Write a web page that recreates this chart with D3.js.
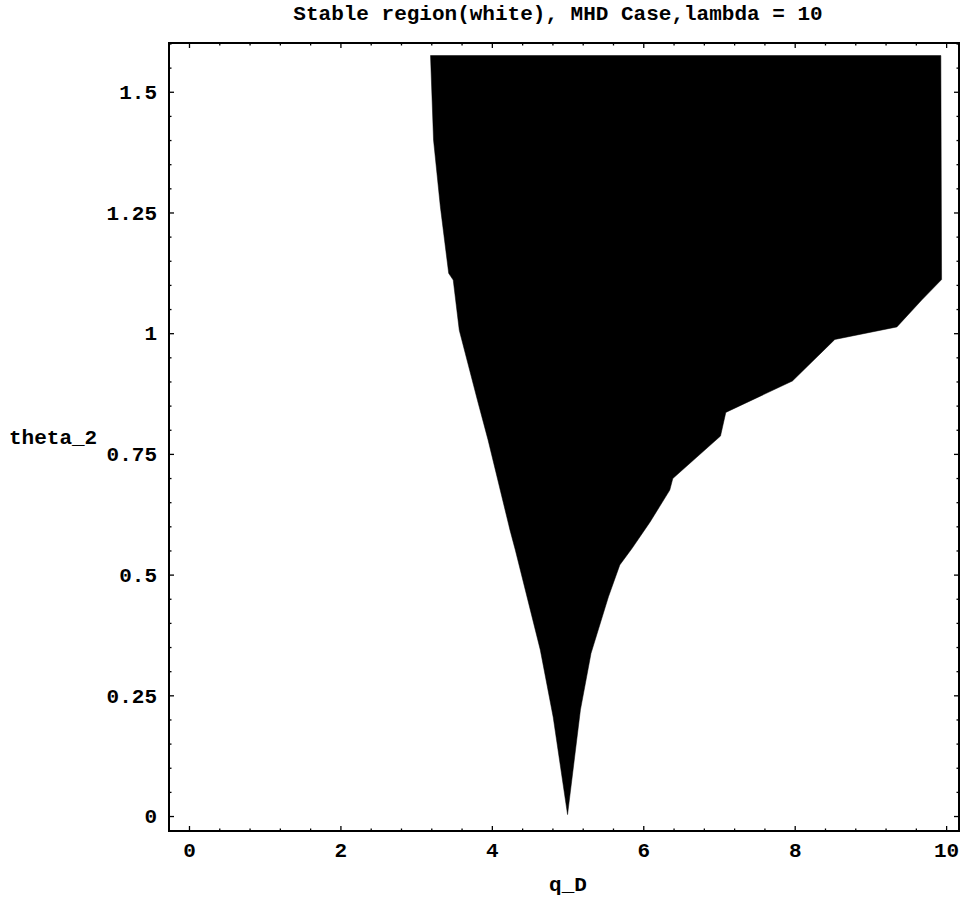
<!DOCTYPE html>
<html>
<head>
<meta charset="utf-8">
<script src="https://cdn.jsdelivr.net/npm/d3@7"></script>
<style>
  html, body { margin: 0; padding: 0; background: #fff; }
  svg text { font-family: "Liberation Mono", "DejaVu Sans Mono", monospace; font-weight: bold; fill: #000; }
</style>
</head>
<body>
<svg id="chart" width="967" height="904"></svg>
<script>
// Unstable region boundary (black), q_D vs theta_2
// left edge, from the top of the region down to the tip
const leftQ     = [3.19, 3.23, 3.32, 3.43, 3.49, 3.57, 3.81, 3.95, 4.24, 4.31, 4.64, 4.81, 5.0];
const leftTheta = [1.575, 1.40, 1.262, 1.124, 1.11, 1.006, 0.861, 0.779, 0.592, 0.551, 0.344, 0.205, 0.003];
// right edge, from the tip up to the top right corner
const rightQ     = [5.0, 5.17, 5.31, 5.54, 5.69, 5.85, 6.09, 6.35, 6.39, 7.02, 7.09, 7.97, 8.53, 9.35, 9.68, 9.94, 9.93];
const rightTheta = [0.003, 0.22, 0.337, 0.454, 0.52, 0.554, 0.609, 0.675, 0.699, 0.787, 0.836, 0.901, 0.987, 1.013, 1.069, 1.111, 1.575];

const xTicks = [0, 2, 4, 6, 8, 10];
const yTicks = [0, 0.25, 0.5, 0.75, 1, 1.25, 1.5];
const yTickLabels = ["0", "0.25", "0.5", "0.75", "1", "1.25", "1.5"];

const titleText = "Stable region(white), MHD Case,lambda = 10";
const xLabel = "q_D";
const yLabel = "theta_2";

const svg = d3.select("#chart");
const frame = { left: 169, right: 959, top: 43, bottom: 831 };

const x = d3.scaleLinear().domain([-0.264, 10.17]).range([frame.left, frame.right]);
const y = d3.scaleLinear().domain([-0.031, 1.601]).range([frame.bottom, frame.top]);

// filled region
const pts = leftQ.map((q, i) => [q, leftTheta[i]])
  .concat(rightQ.map((q, i) => [q, rightTheta[i]]));
svg.append("path")
  .attr("d", d3.line().x(d => x(d[0])).y(d => y(d[1])).curve(d3.curveLinearClosed)(pts))
  .attr("fill", "#000")
  .attr("stroke", "#000")
  .attr("stroke-width", 0.5);

// minor tick values
const xMinor = d3.range(0, 10.01, 0.4).filter(v => xTicks.every(t => Math.abs(t - v) > 1e-6));
const yMinor = d3.range(0, 1.601, 0.05).filter(v => yTicks.every(t => Math.abs(t - v) > 1e-6));

function styleAxis(g) {
  g.select(".domain").remove();
  g.selectAll("line").attr("stroke", "#000").attr("stroke-width", 1.3);
  g.selectAll("text").attr("font-size", 21);
}

// bottom
svg.append("g").attr("transform", `translate(0,${frame.bottom})`)
  .call(d3.axisBottom(x).tickValues(xTicks).tickSize(-5).tickPadding(11).tickFormat(d3.format("d")))
  .call(styleAxis);
svg.append("g").attr("transform", `translate(0,${frame.bottom})`)
  .call(d3.axisBottom(x).tickValues(xMinor).tickSize(-2.5).tickFormat(""))
  .call(styleAxis);
// top
svg.append("g").attr("transform", `translate(0,${frame.top})`)
  .call(d3.axisTop(x).tickValues(xTicks).tickSize(-5).tickFormat(""))
  .call(styleAxis);
svg.append("g").attr("transform", `translate(0,${frame.top})`)
  .call(d3.axisTop(x).tickValues(xMinor).tickSize(-2.5).tickFormat(""))
  .call(styleAxis);
// left
svg.append("g").attr("transform", `translate(${frame.left},0)`)
  .call(d3.axisLeft(y).tickValues(yTicks).tickSize(-5).tickPadding(12)
    .tickFormat((d, i) => yTickLabels[i]))
  .call(styleAxis);
svg.append("g").attr("transform", `translate(${frame.left},0)`)
  .call(d3.axisLeft(y).tickValues(yMinor).tickSize(-2.5).tickFormat(""))
  .call(styleAxis);
// right
svg.append("g").attr("transform", `translate(${frame.right},0)`)
  .call(d3.axisRight(y).tickValues(yTicks).tickSize(-5).tickFormat(""))
  .call(styleAxis);
svg.append("g").attr("transform", `translate(${frame.right},0)`)
  .call(d3.axisRight(y).tickValues(yMinor).tickSize(-2.5).tickFormat(""))
  .call(styleAxis);

// frame
svg.append("rect")
  .attr("x", frame.left).attr("y", frame.top)
  .attr("width", frame.right - frame.left).attr("height", frame.bottom - frame.top)
  .attr("fill", "none").attr("stroke", "#000").attr("stroke-width", 2);

// title and axis labels
svg.append("text").attr("x", 558).attr("y", 20).attr("text-anchor", "middle")
  .attr("font-size", 21).text(titleText);
svg.append("text").attr("x", 568).attr("y", 891).attr("text-anchor", "middle")
  .attr("font-size", 21).text(xLabel);
svg.append("text").attr("x", 9).attr("y", 444).attr("text-anchor", "start")
  .attr("font-size", 21).text(yLabel);
</script>
</body>
</html>
